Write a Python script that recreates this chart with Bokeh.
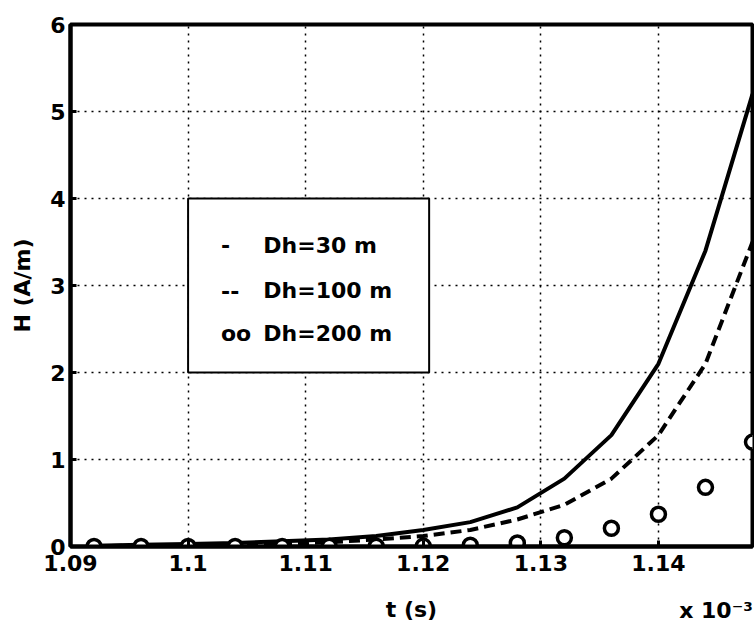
from bokeh.plotting import figure
from bokeh.models import Range1d, FixedTicker, Label, BoxAnnotation, LinearAxis
from bokeh.embed import file_html
from bokeh.resources import INLINE

# time in units of 1e-3 s
t = [1.092, 1.096, 1.100, 1.104, 1.108, 1.112, 1.116, 1.120,
     1.124, 1.128, 1.132, 1.136, 1.140, 1.144, 1.148]
h_dh30 = [0.01, 0.02, 0.03, 0.04, 0.06, 0.08, 0.12, 0.19,
          0.28, 0.45, 0.78, 1.28, 2.10, 3.40, 5.20]
h_dh100 = [0.005, 0.01, 0.015, 0.02, 0.03, 0.05, 0.08, 0.12,
           0.19, 0.31, 0.48, 0.78, 1.28, 2.10, 3.50]
h_dh200 = [0.0, 0.0, 0.0, 0.0, 0.0, 0.002, 0.003, 0.005,
           0.015, 0.04, 0.10, 0.21, 0.37, 0.68, 1.20]

x_ticks = [1.09, 1.10, 1.11, 1.12, 1.13, 1.14]
x_tick_labels = ["1.09", "1.1", "1.11", "1.12", "1.13", "1.14"]
y_ticks = [0, 1, 2, 3, 4, 5, 6]
legend_symbols = ["-", "--", "oo"]
legend_labels = ["Dh=30 m", "Dh=100 m", "Dh=200 m"]
exponent_text = "x 10\u207b\u00b3"
exponent_at = 1.1449  # x position (data units) where the exponent text is centred

FONT = "DejaVu Sans"

p = figure(width=754, height=628, output_backend="svg", toolbar_location=None,
           x_range=Range1d(1.09, 1.148), y_range=Range1d(0, 6),
           min_border_left=70, min_border_right=2, min_border_top=24,
           min_border_bottom=82, background_fill_color="white",
           border_fill_color="white")

p.outline_line_color = "black"
p.outline_line_width = 4


def style_axis(ax):
    ax.axis_line_width = 4
    ax.axis_line_color = "black"
    ax.major_tick_in = 6
    ax.major_tick_out = 0
    ax.major_tick_line_width = 3
    ax.minor_tick_line_color = None
    ax.major_label_text_font = FONT
    ax.major_label_text_font_style = "bold"
    ax.major_label_text_font_size = "22px"
    ax.major_label_text_color = "black"
    ax.axis_label_text_font = FONT
    ax.axis_label_text_font_style = "bold"
    ax.axis_label_text_font_size = "22px"
    ax.axis_label_text_color = "black"


style_axis(p.xaxis[0])
style_axis(p.yaxis[0])

p.xaxis.ticker = FixedTicker(ticks=x_ticks)
p.xaxis.major_label_overrides = {v: s for v, s in zip(x_ticks, x_tick_labels)}
p.yaxis.ticker = FixedTicker(ticks=y_ticks)
p.xaxis.axis_label = "t (s)"
p.yaxis.axis_label = "H (A/m)"
p.xaxis.major_label_standoff = 8
p.xaxis.axis_label_standoff = 23
p.yaxis.major_label_standoff = 5
p.yaxis.axis_label_standoff = 12

# exponent text, on the same line as the axis label, at the right end
exp_axis = LinearAxis(ticker=FixedTicker(ticks=[exponent_at]),
                      major_label_overrides={exponent_at: exponent_text})
style_axis(exp_axis)
exp_axis.axis_line_color = None
exp_axis.major_tick_line_color = None
exp_axis.major_tick_in = 0
exp_axis.major_label_standoff = -27
p.add_layout(exp_axis, "below")

for g in (p.xgrid[0], p.ygrid[0]):
    g.grid_line_color = "black"
    g.grid_line_dash = "2 5"
    g.grid_line_width = 1.5

p.line(t, h_dh30, line_color="black", line_width=4)
p.line(t, h_dh100, line_color="black", line_width=4, line_dash="11 6")
p.scatter(t, h_dh200, marker="circle", size=14, line_color="black",
          line_width=3.5, fill_color="white")

# text legend box (as drawn in the original figure)
box = BoxAnnotation(left=1.1, right=1.1205, bottom=2.0, top=4.0,
                    fill_color="white", fill_alpha=1.0,
                    line_color="black", line_alpha=1.0, line_width=2)
p.add_layout(box)
legend_y = [3.46, 2.94, 2.45]
for sym, lab, yy in zip(legend_symbols, legend_labels, legend_y):
    p.add_layout(Label(x=1.1028, y=yy, text=sym, text_font=FONT,
                       text_font_style="bold", text_font_size="22px",
                       text_baseline="middle", text_align="left",
                       text_color="black"))
    p.add_layout(Label(x=1.1064, y=yy, text=lab, text_font=FONT,
                       text_font_style="bold", text_font_size="22px",
                       text_baseline="middle", text_align="left",
                       text_color="black"))

open("out.html", "w").write(file_html(p, INLINE))
